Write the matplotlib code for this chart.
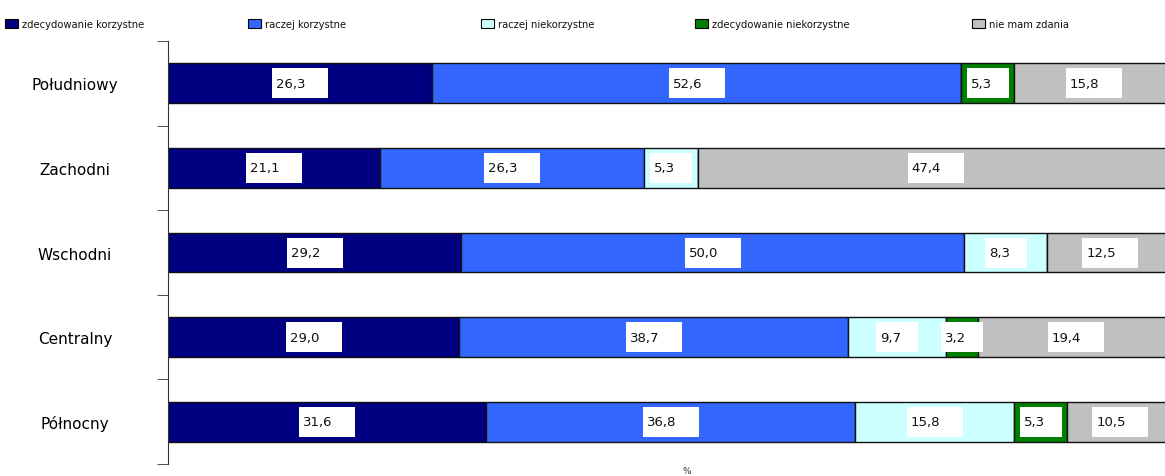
import matplotlib.pyplot as plt
import matplotlib.patches as mpatches
from matplotlib.transforms import Affine2D, ScaledTranslation

# survey answers per region, in percent
regions = ["Południowy", "Zachodni", "Wschodni", "Centralny", "Północny"]
series = ["zdecydowanie korzystne", "raczej korzystne", "raczej niekorzystne",
          "zdecydowanie niekorzystne", "nie mam zdania"]
zdec_korz = [26.3, 21.1, 29.2, 29.0, 31.6]
racz_korz = [52.6, 26.3, 50.0, 38.7, 36.8]
racz_niekorz = [0.0, 5.3, 8.3, 9.7, 15.8]
zdec_niekorz = [5.3, 0.0, 0.0, 3.2, 5.3]
bez_zdania = [15.8, 47.4, 12.5, 19.4, 10.5]
values = [zdec_korz, racz_korz, racz_niekorz, zdec_niekorz, bez_zdania]
colors = ["#000080", "#3366FF", "#CCFFFF", "#008000", "#C0C0C0"]

W, H = 1165, 477
fig = plt.figure(figsize=(W / 100, H / 100), dpi=100)
# axes run a bit past the right edge, like the original
ax = fig.add_axes([168 / W, (H - 465) / H, 1005 / W, 423 / H])

ypos = list(range(len(regions)))
left = [0.0] * len(regions)
for vals, col in zip(values, colors):
    ax.barh(ypos, vals, left=left, height=0.47, color=col,
            edgecolor="#111111", linewidth=1.0, zorder=2)
    for i, v in enumerate(vals):
        if v <= 0:
            continue
        xc = left[i] + v / 2
        s = f"{v:.1f}".replace(".", ",")
        bw, bh = 14 * len(s), 30  # label box size in pixels
        tr = (Affine2D().scale(1 / 100) + fig.dpi_scale_trans
              + ScaledTranslation(xc, i, ax.transData))
        ax.add_patch(mpatches.Rectangle((-bw / 2, -bh / 2), bw, bh,
                                        facecolor="white", edgecolor="none",
                                        transform=tr, zorder=3, clip_on=False))
        ax.annotate(s, xy=(xc, i), xytext=((-bw / 2 + 4) * 0.72, 0),
                    textcoords="offset points", ha="left", va="center",
                    fontsize=9.5, color="#111111", zorder=4)
    left = [l + v for l, v in zip(left, vals)]

ax.set_xlim(0, 100)
ax.set_ylim(len(regions) - 0.5, -0.5)
for side in ["top", "right", "bottom"]:
    ax.spines[side].set_visible(False)
ax.spines["left"].set_color("#333333")
ax.set_xticks([])
ax.set_yticks(ypos, regions, fontsize=11)
ax.set_yticks([y - 0.5 for y in range(len(regions) + 1)], minor=True)
ax.tick_params(axis="y", which="major", length=0, pad=67)
ax.tick_params(axis="y", which="minor", length=8, color="#333333")
for lbl in ax.get_yticklabels():
    lbl.set_horizontalalignment("center")

# legend row along the top
leg_x = [5, 248, 481, 695, 972]
for x0, name, col in zip(leg_x, series, colors):
    fig.patches.append(mpatches.Rectangle((x0 / W, (H - 29) / H), 13 / W, 9 / H,
                                          facecolor=col, edgecolor="black",
                                          linewidth=0.8, transform=fig.transFigure))
    fig.text((x0 + 17) / W, (H - 25) / H, name, fontsize=7.2, va="center",
             ha="left", color="#111111")

fig.text(687 / W, (H - 472) / H, "%", fontsize=6.5, ha="center", va="center",
         color="#333333")

fig.savefig("out.png", dpi=100)
